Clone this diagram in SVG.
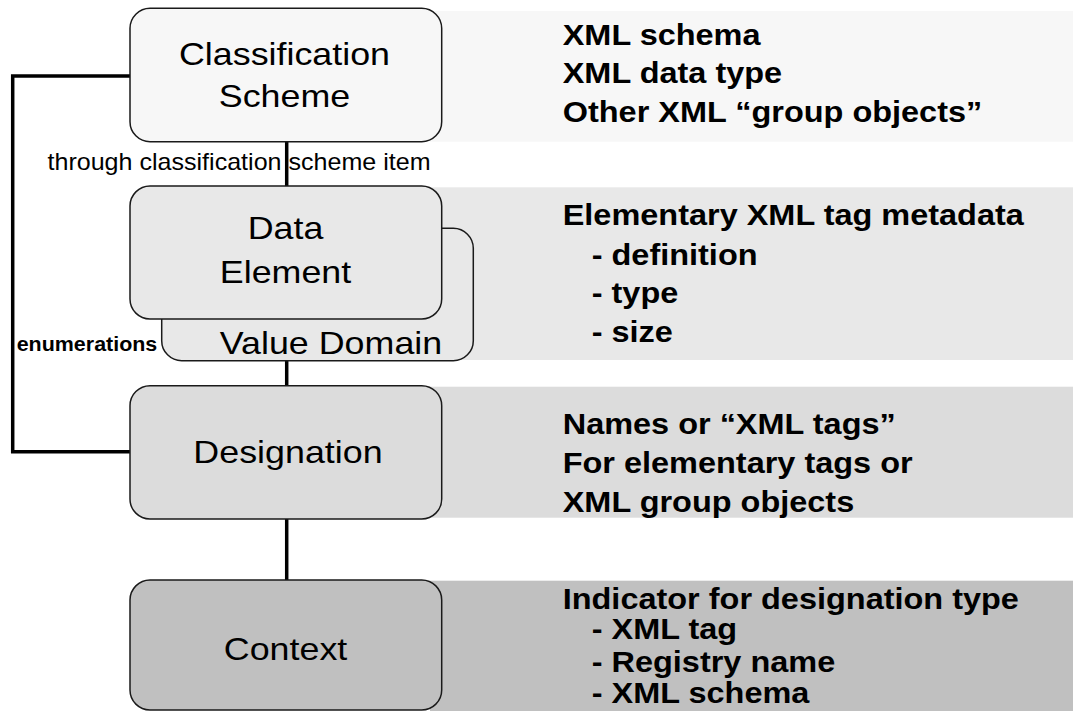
<svg xmlns="http://www.w3.org/2000/svg" width="1073" height="711" viewBox="0 0 1073 711">
  <style>
    .box { stroke: #1a1a1a; stroke-width: 1.5; }
    .lbl { font-family: "Liberation Sans", Arial, sans-serif; font-size: 32px; fill: #000; text-anchor: middle; }
    .desc { font-family: "Liberation Sans", Arial, sans-serif; font-size: 29px; font-weight: bold; fill: #000; }
    .note { font-family: "Liberation Sans", Arial, sans-serif; fill: #000; }
    .conn { stroke: #000; stroke-width: 3.5; fill: none; }
  </style>
  <rect x="0" y="0" width="1073" height="711" fill="#ffffff"/>

  <!-- background bands with descriptions -->
  <g id="band-classification">
    <rect x="430" y="11" width="643" height="130.7" fill="#f7f7f7"/>
    <g transform="translate(562.7,0) scale(1.12,1)">
      <text class="desc"><tspan x="0" y="45">XML schema</tspan><tspan x="0" y="83.5">XML data type</tspan><tspan x="0" y="122.5">Other XML “group objects”</tspan></text>
    </g>
  </g>
  <g id="band-dataelement">
    <rect x="430" y="187.3" width="643" height="172.7" fill="#e8e8e8"/>
    <g transform="translate(562.7,0) scale(1.12,1)">
      <text class="desc"><tspan x="0" y="225">Elementary XML tag metadata</tspan><tspan x="25.9" y="265">- definition</tspan><tspan x="25.9" y="303.3">- type</tspan><tspan x="25.9" y="341.7">- size</tspan></text>
    </g>
  </g>
  <g id="band-designation">
    <rect x="430" y="386.7" width="643" height="131" fill="#dcdcdc"/>
    <g transform="translate(562.7,0) scale(1.12,1)">
      <text class="desc"><tspan x="0" y="434">Names or “XML tags”</tspan><tspan x="0" y="472.7">For elementary tags or</tspan><tspan x="0" y="511.7">XML group objects</tspan></text>
    </g>
  </g>
  <g id="band-context">
    <rect x="430" y="580.7" width="643" height="130.3" fill="#c0c0c0"/>
    <g transform="translate(562.7,0) scale(1.12,1)">
      <text class="desc"><tspan x="0" y="609">Indicator for designation type</tspan><tspan x="25.9" y="639.3">- XML tag</tspan><tspan x="25.9" y="671.7">- Registry name</tspan><tspan x="25.9" y="703.3">- XML schema</tspan></text>
    </g>
  </g>

  <!-- connectors -->
  <g id="connectors">
    <line class="conn" x1="286.7" y1="141" x2="286.7" y2="187"/>
    <line class="conn" x1="286.7" y1="360" x2="286.7" y2="386.5"/>
    <line class="conn" x1="286.7" y1="518.5" x2="286.7" y2="581"/>
    <path class="conn" d="M131,76 H12.7 V451.7 H131"/>
    <g transform="translate(47.5,170) scale(1.09,1)">
      <text class="note" x="0" y="0" font-size="23">through classification scheme item</text>
    </g>
    <g transform="translate(16.7,351) scale(1.1,1)">
      <text class="note" x="0" y="0" font-size="19.5" font-weight="bold">enumerations</text>
    </g>
  </g>

  <!-- nodes -->
  <g id="classification-scheme">
    <rect class="box" x="130" y="8.3" width="311.7" height="133.4" rx="20" ry="20" fill="#f7f7f7"/>
    <g transform="translate(284.5,0) scale(1.12,1)">
      <text class="lbl"><tspan x="0" y="65">Classification</tspan><tspan x="0" y="107.3">Scheme</tspan></text>
    </g>
  </g>
  <g id="value-domain">
    <rect class="box" x="161.7" y="228.3" width="311.6" height="132.4" rx="20" ry="20" fill="#e8e8e8"/>
    <g transform="translate(331,354.3) scale(1.12,1)">
      <text class="lbl" x="0" y="0">Value Domain</text>
    </g>
  </g>
  <g id="data-element">
    <rect class="box" x="130" y="186" width="311.7" height="133" rx="20" ry="20" fill="#e8e8e8"/>
    <g transform="translate(285.5,0) scale(1.12,1)">
      <text class="lbl"><tspan x="0" y="239.3">Data</tspan><tspan x="0" y="283.3">Element</tspan></text>
    </g>
  </g>
  <g id="designation">
    <rect class="box" x="130" y="385.7" width="311.7" height="133.3" rx="20" ry="20" fill="#dcdcdc"/>
    <g transform="translate(288,462.7) scale(1.12,1)">
      <text class="lbl" x="0" y="0">Designation</text>
    </g>
  </g>
  <g id="context">
    <rect class="box" x="130" y="580" width="311.7" height="130" rx="20" ry="20" fill="#c0c0c0"/>
    <g transform="translate(285.5,660) scale(1.12,1)">
      <text class="lbl" x="0" y="0">Context</text>
    </g>
  </g>
</svg>
